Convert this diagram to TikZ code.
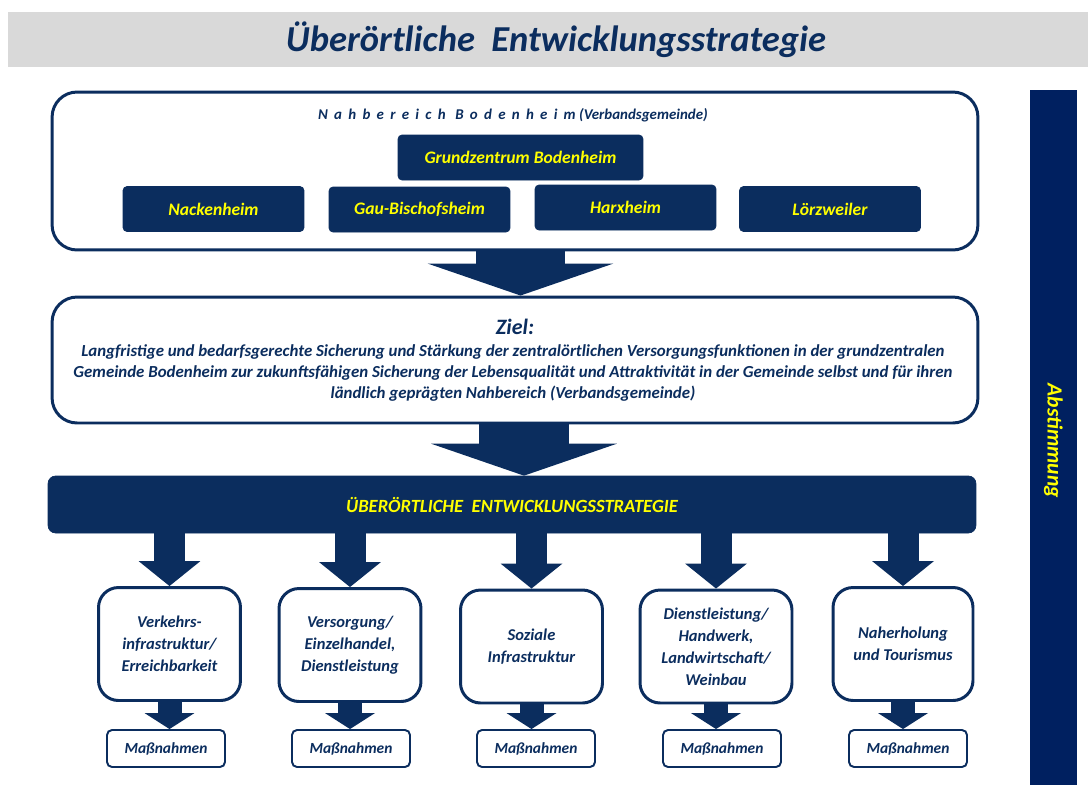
\documentclass[tikz,border=0pt]{standalone}
\usepackage{fontspec}
\setmainfont{Carlito}
\usetikzlibrary{arrows.meta}
\definecolor{navy}{HTML}{0B2D5E}
\definecolor{balken}{HTML}{002060}
\definecolor{band}{HTML}{D9D9D9}
\definecolor{gelb}{HTML}{FFFF00}
\begin{document}
\begin{tikzpicture}[x=0.02cm, y=-0.02cm,
  rahmen/.style={draw=navy, line width=1.7pt, fill=white, rounded corners=0.5cm, minimum width=18.52cm},
  ort/.style={draw=navy, fill=navy, rounded corners=0.08cm, text=gelb, minimum width=3.62cm, minimum height=0.9cm,
    font=\fontsize{10}{12}\selectfont\bfseries\itshape},
  feld/.style={draw=navy, line width=1.7pt, rounded corners=0.4cm, minimum width=2.84cm, minimum height=2.26cm,
    align=center, text=navy, font=\fontsize{9.4}{12.5}\selectfont\bfseries\itshape},
  mass/.style={draw=navy, line width=1.1pt, rounded corners=0.1cm, minimum width=2.36cm, minimum height=0.74cm,
    text=navy, font=\fontsize{8.8}{10}\selectfont\bfseries\itshape},
  pfeil/.style={navy, line width=1.8cm, -{Triangle[length=0.64cm, width=3.72cm, line width=0pt]}},
  pfeilmittel/.style={navy, line width=0.62cm, -{Triangle[length=0.5cm, width=1.24cm, line width=0pt]}},
  pfeilklein/.style={navy, line width=0.48cm, -{Triangle[length=0.32cm, width=1cm, line width=0pt]}}]
\useasboundingbox (0,0) rectangle (1088,785);

% title band
\fill[band] (8,12) rectangle (1088,67);
\node[text=navy, font=\fontsize{20.8}{24}\selectfont\bfseries\itshape] (titel) at (556,40) {Überörtliche~~Entwicklungsstrategie};

% side bar
\fill[balken] (1030,90) rectangle (1077,785);
\node[rotate=-90, text=gelb, font=\fontsize{12.3}{14}\selectfont\bfseries\itshape] (abstimmung) at (1053.5,441) {Abstimmung};

% Nahbereich
\node[rahmen, minimum height=3.16cm] (nahbereich) at (515,171) {};
\node[text=navy, font=\fontsize{8.5}{10}\selectfont\bfseries\itshape] (nbtitel) at (513,115)
  {{\addfontfeature{LetterSpace=42}Nahbereich Bodenheim} (Verbandsgemeinde)};
\node[ort, minimum width=4.9cm] (zentrum) at (520.5,157.5) {Grundzentrum Bodenheim};
\node[ort] (nackenheim) at (213.5,209) {Nackenheim};
\node[ort] (gau) at (419.5,209.5) {Gau-Bischofsheim};
\node[ort] (harxheim) at (625.5,207.5) {Harxheim};
\node[ort] (loerzweiler) at (830,209) {Lörzweiler};

% Ziel
\node[rahmen, minimum height=2.52cm] (ziel) at (515,360) {};
\node[text=navy, font=\fontsize{12.5}{14}\selectfont\bfseries\itshape] (zieltitel) at (515,327) {Ziel:};
\node[text=navy, align=center, font=\fontsize{9.6}{11.9}\selectfont\bfseries\itshape] (zieltext) at (513,373)
  {Langfristige und bedarfsgerechte Sicherung und Stärkung der zentralörtlichen Versorgungsfunktionen in der grundzentralen\\
   Gemeinde Bodenheim zur zukunftsfähigen Sicherung der Lebensqualität und Attraktivität in der Gemeinde selbst und für ihren\\
   ländlich geprägten Nahbereich (Verbandsgemeinde)};

% Strategie
\node[draw=navy, fill=navy, rounded corners=0.15cm, minimum width=18.56cm, minimum height=1.14cm, text=gelb,
  font=\fontsize{10.6}{12}\selectfont\bfseries\itshape] (strategie) at (512,504.5) {ÜBERÖRTLICHE~~ENTWICKLUNGSSTRATEGIE};

% big arrows
\draw[pfeil] (nahbereich.south -| zentrum.south) -- (ziel.north -| zentrum.south);
\draw[pfeil] (ziel.south -| 524,0) -- (strategie.north -| 524,0);

% fields
\node[feld] (verkehr) at (169.5,644) {Verkehrs-\\infrastruktur/\\Erreichbarkeit};
\node[feld] (versorgung) at (350,645) {Versorgung/\\Einzelhandel,\\Dienstleistung};
\node[feld] (soziales) at (531.5,646.5) {Soziale\\Infrastruktur};
\node[feld, minimum width=3.04cm] (dienst) at (716,646.5) {Dienstleistung/\\Handwerk,\\Landwirtschaft/\\Weinbau};
\node[feld, minimum width=2.8cm] (erholung) at (903,644) {Naherholung\\und Tourismus};

% Massnahmen
\node[mass] (mverkehr) at (166,748.5) {Maßnahmen};
\node[mass] (mversorgung) at (351,748.5) {Maßnahmen};
\node[mass] (msoziales) at (536,748.5) {Maßnahmen};
\node[mass] (mdienst) at (722,748.5) {Maßnahmen};
\node[mass] (merholung) at (908,748.5) {Maßnahmen};

% arrows down
\foreach \n in {verkehr, versorgung, soziales, dienst, erholung} {
  \draw[pfeilmittel] (strategie.south -| \n.north) -- (\n.north);
  \draw[pfeilklein] (\n.south) -- (\n.south |- m\n.north);
}
\end{tikzpicture}
\end{document}
